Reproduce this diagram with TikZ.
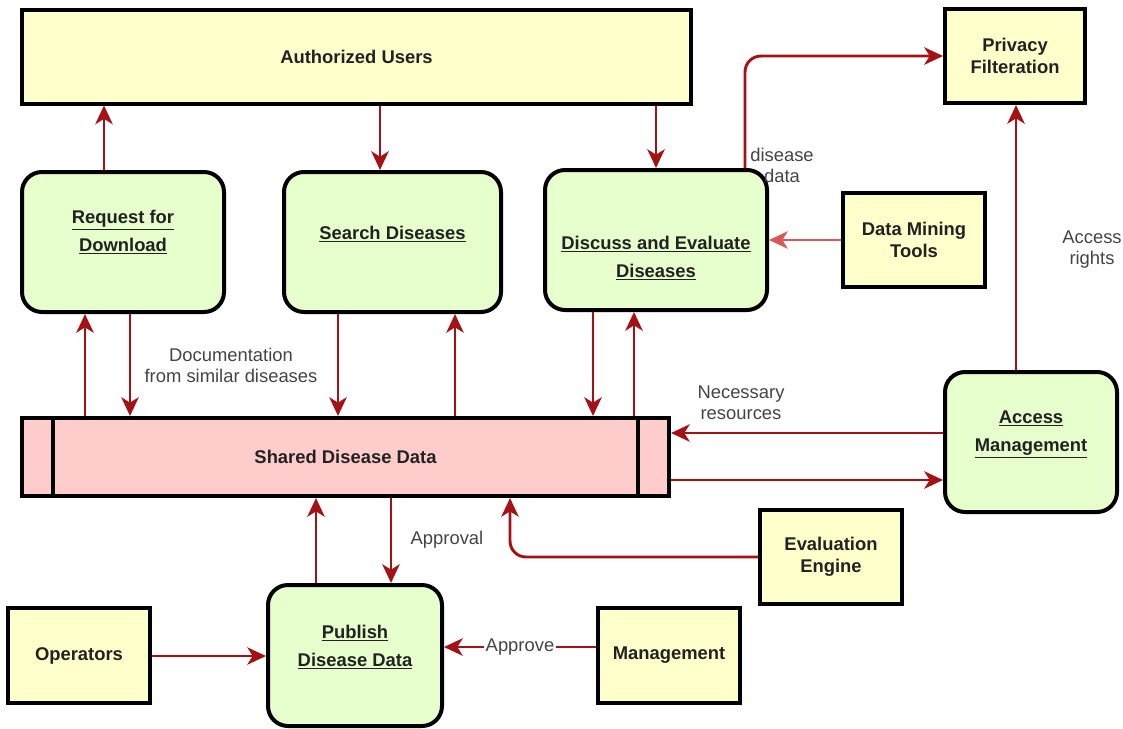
\documentclass[tikz,border=0pt]{standalone}
\usepackage{fontspec}
\setmainfont{Liberation Sans}
\usetikzlibrary{arrows.meta}
\definecolor{arrowred}{RGB}{165,18,22}
\definecolor{lightred}{RGB}{214,88,88}
\definecolor{extfill}{RGB}{255,255,204}
\definecolor{procfill}{RGB}{230,255,204}
\definecolor{storefill}{RGB}{255,204,204}
\definecolor{labelgray}{RGB}{68,68,68}
\definecolor{txt}{RGB}{34,34,34}
\begin{document}
\begin{tikzpicture}[x=0.75pt,y=-0.75pt,
  entity/.style={draw=black,line width=3pt,fill=extfill,align=center,
    font=\bfseries\fontsize{13.8}{16.5}\selectfont,text=txt,inner sep=0pt},
  process/.style={draw=black,line width=3pt,fill=procfill,rounded corners=15pt,inner sep=0pt},
  ptext/.style={align=center,font=\bfseries\fontsize{13.8}{21}\selectfont,text=txt,inner sep=0pt},
  datastore/.style={draw=black,line width=3pt,fill=storefill,align=center,
    font=\bfseries\fontsize{13.8}{16.5}\selectfont,text=txt,inner sep=0pt},
  flow/.style={draw=arrowred,line width=2.2pt,-{Stealth[length=14pt,width=13pt,inset=4pt]}},
  lightflow/.style={flow,draw=lightred},
  lbl/.style={font=\fontsize{13.8}{15.75}\selectfont,text=labelgray,align=center,inner sep=1pt}
]
\useasboundingbox (0,0) rectangle (1123,728);

% entities
\node[entity,minimum width=501.75pt,minimum height=70.5pt] (auth) at (356.5,56.5) {Authorized Users};
\node[entity,minimum width=105pt,minimum height=70.5pt] (priv) at (1015,56) {Privacy\\Filteration};
\node[entity,minimum width=106.5pt,minimum height=70.5pt] (dmt) at (914,240) {Data Mining\\Tools};
\node[entity,minimum width=106.5pt,minimum height=70.5pt] (eval) at (831,557) {Evaluation\\Engine};
\node[entity,minimum width=106.5pt,minimum height=71.25pt] (oper) at (79,655.5) {Operators};
\node[entity,minimum width=106.5pt,minimum height=71.25pt] (mgmt) at (669,655.5) {Management};

% processes
\node[process,minimum width=151.5pt,minimum height=105pt,
  label={[ptext,name=reqt,yshift=7.5pt]center:{\underline{Request for}\\\underline{Download}}}] (req) at (123,242) {};
\node[process,minimum width=162.75pt,minimum height=105pt,
  label={[ptext,name=searcht,yshift=6pt]center:{\underline{Search Diseases}}}] (search) at (392.5,242) {};
\node[process,minimum width=166.5pt,minimum height=105pt,
  label={[ptext,name=disct,yshift=-13.5pt]center:{\underline{Discuss and Evaluate}\\\underline{Diseases}}}] (disc) at (656,240) {};
\node[process,minimum width=129pt,minimum height=105pt,
  label={[ptext,name=accesst,yshift=6pt]center:{\underline{Access}\\\underline{Management}}}] (access) at (1031,442) {};
\node[process,minimum width=130.5pt,minimum height=105.75pt,
  label={[ptext,name=pubt,yshift=6.5pt]center:{\underline{Publish}\\\underline{Disease Data}}}] (pub) at (355,655.5) {};

% data store
\node[datastore,minimum width=485.25pt,minimum height=58.5pt] (shared) at (345.5,457) {Shared Disease Data};
\draw[line width=3pt] (53,0 |- shared.north) -- (53,0 |- shared.south);
\draw[line width=3pt] (638,0 |- shared.north) -- (638,0 |- shared.south);

% flows
\draw[flow] (104,0 |- req.north) -- (104,0 |- auth.south);
\draw[flow] (380,0 |- auth.south) -- (380,0 |- search.north);
\draw[flow] (656,0 |- auth.south) -- (656,0 |- disc.north);
\draw[flow,rounded corners=12pt] (745,0 |- disc.north) |- (priv.west);
\draw[lightflow] (dmt.west) -- (disc.east);
\draw[flow] (1016,0 |- access.north) -- (1016,0 |- priv.south);
\draw[flow] (85,0 |- shared.north) -- (85,0 |- req.south);
\draw[flow] (130,0 |- req.south) -- (130,0 |- shared.north);
\draw[flow] (338,0 |- search.south) -- (338,0 |- shared.north);
\draw[flow] (455,0 |- shared.north) -- (455,0 |- search.south);
\draw[flow] (593,0 |- disc.south) -- (593,0 |- shared.north);
\draw[flow] (634,0 |- shared.north) -- (634,0 |- disc.south);
\draw[flow] (access.west |- 0,433) -- (shared.east |- 0,433);
\draw[flow] (shared.east |- 0,480) -- (access.west |- 0,480);
\draw[flow] (316,0 |- pub.north) -- (316,0 |- shared.south);
\draw[flow] (391,0 |- shared.south) -- (391,0 |- pub.north);
\draw[flow,rounded corners=12pt] (eval.west) -| (510,0 |- shared.south);
\draw[flow] (oper.east |- 0,656) -- (pub.west |- 0,656);
\draw[flow] (mgmt.west |- 0,647) -- node[lbl,fill=white,inner sep=1pt] (apv) {Approve} (pub.east |- 0,647);

% labels
\node[lbl] (l1) at (782,165) {disease\\data};
\node[lbl] (l2) at (231,365) {Documentation\\from similar diseases};
\node[lbl] (l3) at (741,403) {Necessary\\resources};
\node[lbl] (l4) at (1092,250) {Access\\rights};
\node[lbl] (l5) at (447,540) {Approval};
\end{tikzpicture}
\end{document}
